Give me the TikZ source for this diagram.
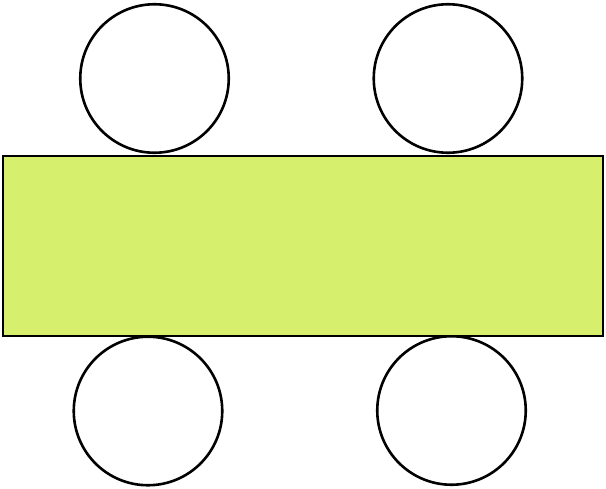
\documentclass[tikz,border=0pt]{standalone}
\definecolor{tablegreen}{RGB}{214,240,110}
\tikzset{
  seat/.style={circle, draw=black, line width=2.6pt, fill=white, minimum size=148.5pt, inner sep=0pt},
  tabletop/.style={rectangle, draw=black, line width=2.6pt, fill=tablegreen, minimum width=600pt, minimum height=180pt, inner sep=0pt}
}
\begin{document}
\begin{tikzpicture}[x=1pt,y=1pt]
\useasboundingbox (0,0) rectangle (606,-489);
% chairs
\node[seat] (seatTL) at (154.5,-78.5) {};
\node[seat] (seatTR) at (448,-78.5) {};
\node[seat] (seatBL) at (148,-411) {};
\node[seat] (seatBR) at (451.5,-410.5) {};
% table
\node[tabletop] (table) at (303,-246) {};
\end{tikzpicture}
\end{document}
